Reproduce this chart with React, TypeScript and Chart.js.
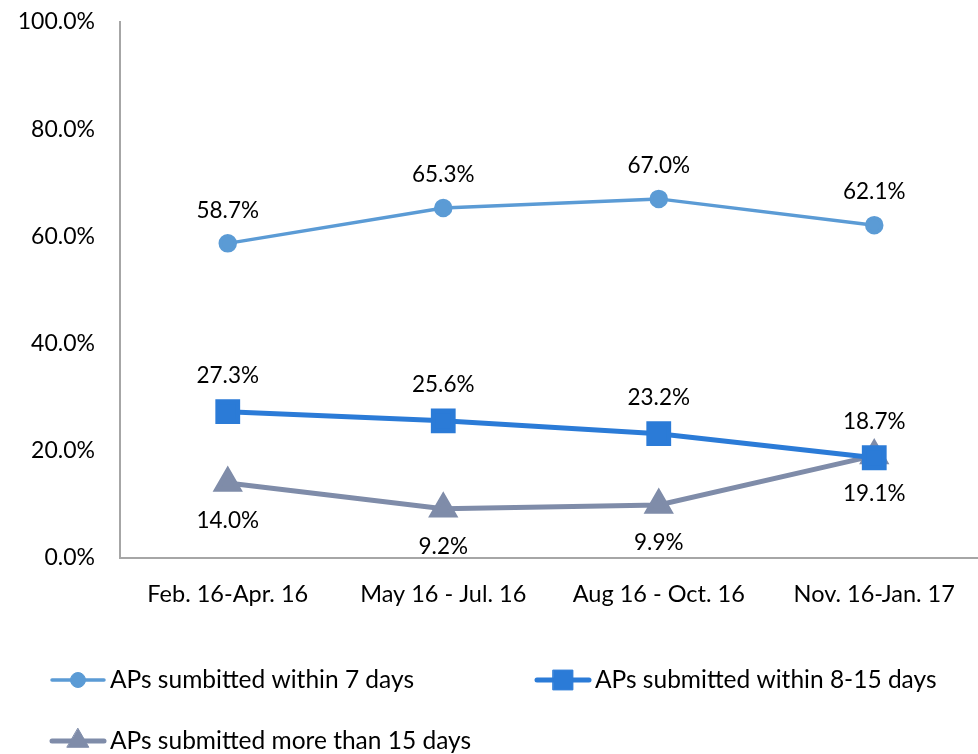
import React, { useEffect, useRef } from "react";
import { Chart, registerables } from "chart.js";
import { drawPoint } from "chart.js/helpers";

Chart.register(...registerables);

const categories = ["Feb. 16-Apr. 16", "May 16 - Jul. 16", "Aug 16 - Oct. 16", "Nov. 16-Jan. 17"];
const within7 = [58.7, 65.3, 67.0, 62.1];
const within8to15 = [27.3, 25.6, 23.2, 18.7];
const moreThan15 = [14.0, 9.2, 9.9, 19.1];
const seriesNames = [
  "APs sumbitted within 7 days",
  "APs submitted within 8-15 days",
  "APs submitted more than 15 days",
];
const yTicks = [0, 20, 40, 60, 80, 100];

const FONT = "Lato, 'Open Sans', sans-serif";
const labelOffsets = [-33, -36, 38];

const dataLabelPlugin = {
  id: "dataLabels",
  afterDatasetsDraw(chart: any) {
    const ctx = chart.ctx;
    ctx.save();
    ctx.font = `22.5px ${FONT}`;
    ctx.fillStyle = "#000";
    ctx.textAlign = "center";
    ctx.textBaseline = "middle";
    chart.data.datasets.forEach((ds: any, i: number) => {
      const meta = chart.getDatasetMeta(i);
      meta.data.forEach((pt: any, j: number) => {
        ctx.fillText(ds.data[j].toFixed(1) + "%", pt.x, pt.y + labelOffsets[i]);
      });
    });
    ctx.restore();
  },
};

const legendPlugin = {
  id: "customLegend",
  afterDraw(chart: any) {
    const ctx = chart.ctx;
    const positions = [
      { x: 52, y: 680 },
      { x: 537, y: 680 },
      { x: 52, y: 741 },
    ];
    ctx.save();
    chart.data.datasets.forEach((ds: any, i: number) => {
      const p = positions[i];
      ctx.strokeStyle = ds.borderColor;
      ctx.lineWidth = ds.borderWidth;
      ctx.lineCap = "round";
      ctx.beginPath();
      ctx.moveTo(p.x, p.y);
      ctx.lineTo(p.x + 52, p.y);
      ctx.stroke();
      ctx.fillStyle = ds.pointBackgroundColor;
      ctx.strokeStyle = ds.pointBorderColor;
      ctx.lineWidth = 1;
      drawPoint(ctx, { pointStyle: ds.pointStyle, radius: ds.pointRadius, borderWidth: 1, rotation: 0 }, p.x + 26, p.y);
      ctx.fillStyle = "#000";
      ctx.font = `24.5px ${FONT}`;
      ctx.textAlign = "left";
      ctx.textBaseline = "middle";
      ctx.fillText(seriesNames[i], p.x + 58, p.y);
    });
    ctx.restore();
  },
};

export default function App() {
  const ref = useRef<HTMLCanvasElement>(null);
  useEffect(() => {
    document.body.style.margin = "0";
    document.documentElement.style.overflow = "hidden";
    const chart = new Chart(ref.current!, {
      type: "line",
      data: {
        labels: categories,
        datasets: [
          {
            label: seriesNames[0],
            data: within7,
            borderColor: "#5B9BD5",
            backgroundColor: "#5B9BD5",
            pointBackgroundColor: "#5B9BD5",
            pointBorderColor: "#5B9BD5",
            borderWidth: 3.5,
            pointStyle: "circle",
            pointRadius: 7.5,
          },
          {
            label: seriesNames[1],
            data: within8to15,
            borderColor: "#2B7BD7",
            backgroundColor: "#2B7BD7",
            pointBackgroundColor: "#2B7BD7",
            pointBorderColor: "#2B7BD7",
            borderWidth: 5,
            pointStyle: "rect",
            pointRadius: 14,
          },
          {
            label: seriesNames[2],
            data: moreThan15,
            borderColor: "#7F8CA9",
            backgroundColor: "#7F8CA9",
            pointBackgroundColor: "#7F8CA9",
            pointBorderColor: "#7F8CA9",
            borderWidth: 5,
            pointStyle: "triangle",
            pointRadius: 12.5,
          },
        ] as any,
      },
      options: {
        animation: false,
        responsive: false,
        layout: { autoPadding: false, padding: { top: 22, right: 0, bottom: 126, left: 0 } },
        plugins: { legend: { display: false }, tooltip: { enabled: false } },
        scales: {
          x: {
            offset: true,
            grid: { display: false, drawTicks: false },
            border: { display: true, color: "#A6A6A6", width: 2 },
            ticks: { color: "#000", font: { family: FONT, size: 23.5 }, padding: 22, maxRotation: 0 },
            afterFit: (s: any) => { s.height = 70; s.paddingLeft = 0; s.paddingRight = 0; },
          },
          y: {
            min: 0,
            max: 100,
            afterBuildTicks: (s: any) => { s.ticks = yTicks.map((v) => ({ value: v })); },
            grid: { display: false, drawTicks: false },
            border: { display: true, color: "#A6A6A6", width: 2 },
            ticks: {
              color: "#000",
              font: { family: FONT, size: 23 },
              padding: 25,
              callback: (v: any) => Number(v).toFixed(1) + "%",
            },
            afterFit: (s: any) => { s.width = 120; s.paddingTop = 0; s.paddingBottom = 0; },
          },
        },
      },
      plugins: [dataLabelPlugin, legendPlugin],
    });
    return () => chart.destroy();
  }, []);
  return (
    <div style={{ width: 982, height: 754 }}>
      <canvas ref={ref} width={982} height={754} style={{ display: "block" }} />
    </div>
  );
}
